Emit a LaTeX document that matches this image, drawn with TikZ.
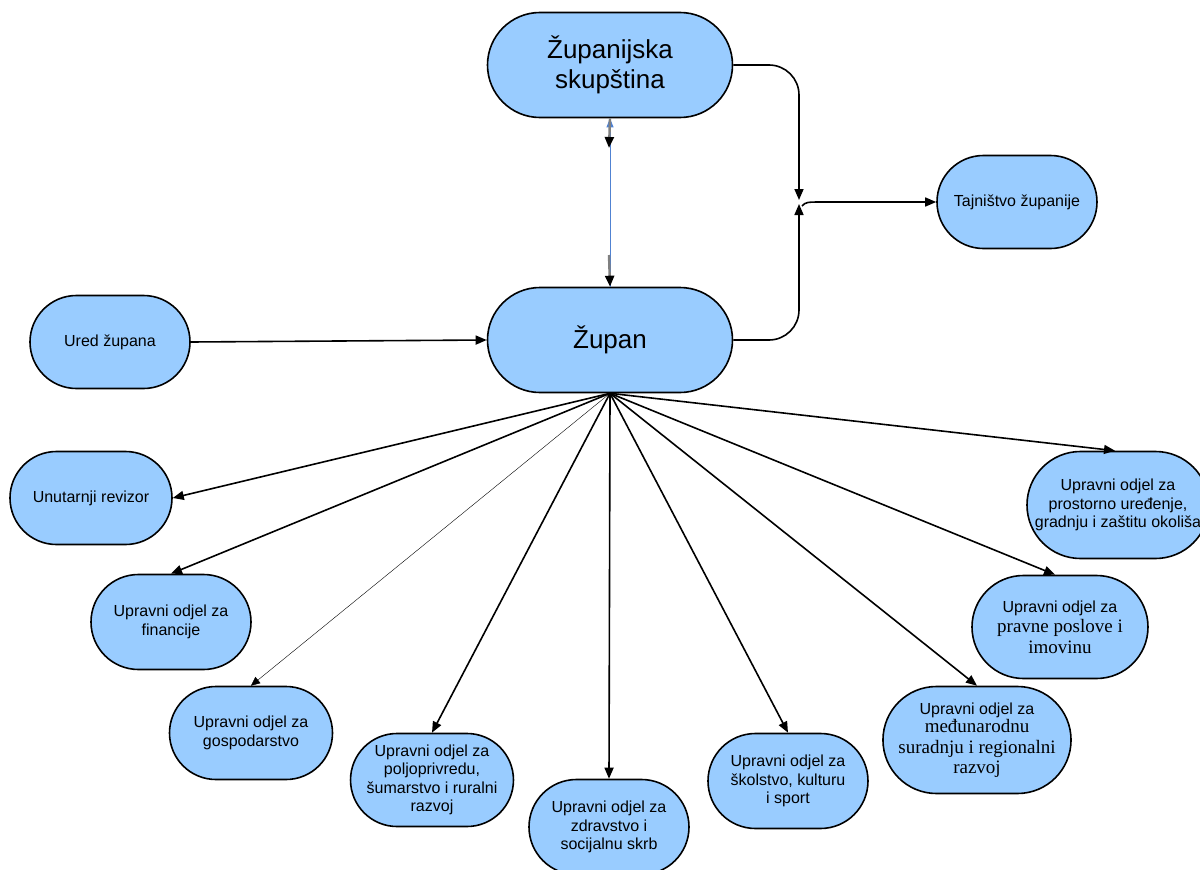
\documentclass[tikz,border=0pt]{standalone}
\usepackage{fontspec}
\setmainfont{Liberation Sans}
\newfontfamily\timesf{Liberation Serif}
\usetikzlibrary{arrows.meta,shapes.misc}

\definecolor{boxblue}{RGB}{153,204,255}
\definecolor{linkblue}{RGB}{80,130,210}

\begin{document}
\begin{tikzpicture}
		[x=1pt,y=-1pt,
		>={Triangle[length=11pt,width=9pt]},
		place/.style={rounded rectangle,draw=black,fill=boxblue,line width=1.6pt,inner sep=0pt,align=center,minimum width=160pt,minimum height=93pt,font=\fontsize{16}{18.5}\selectfont},
		head/.style={place,minimum width=245pt,minimum height=105pt,font=\fontsize{26}{30}\selectfont},
		link/.style={->,line width=1.6pt}]
		\useasboundingbox (0,0) rectangle (1200,870);

		\node [head] (sk) at (610,65) {Županijska\\skupština};
		\node [head] (zu) at (610,340) {Župan};
		\node [place] (taj) at (1017,202) {Tajništvo županije};
		\node [place] (ured) at (110,342) {Ured župana};

		\node [place, minimum width=162pt] (rev) at (91,498) {Unutarnji revizor};
		\node [place, minimum height=95pt] (fin) at (171,622) {Upravni odjel za\\financije};
		\node [place, minimum width=163pt] (gosp) at (251,733) {Upravni odjel za\\gospodarstvo};
		\node [place] (polj) at (432,780) {Upravni odjel za\\poljoprivredu,\\šumarstvo i ruralni\\razvoj};
		\node [place, minimum height=95pt] (zdr) at (609,827) {Upravni odjel za\\zdravstvo i\\socijalnu skrb};
		\node [place, minimum height=95pt] (skol) at (788,781) {Upravni odjel za\\školstvo, kulturu\\i sport};
		\node [place, minimum width=177pt, minimum height=107pt] (medj) at (977,740) {Upravni odjel za\\{\timesf\fontsize{19}{21.7}\selectfont međunarodnu}\\[2pt]{\timesf\fontsize{19}{21.7}\selectfont suradnju i regionalni}\\[2pt]{\timesf\fontsize{19}{21.7}\selectfont razvoj}};
		\node [place, minimum width=176pt, minimum height=103pt] (prav) at (1060,627) {Upravni odjel za\\[2pt]{\timesf\fontsize{19}{21.7}\selectfont pravne poslove i}\\[2pt]{\timesf\fontsize{19}{21.7}\selectfont imovinu}};
		\node [place, minimum width=182pt, minimum height=107pt] (pros) at (1118,505) {Upravni odjel za\\prostorno uređenje,\\gradnju i zaštitu okoliša};

		% skupstina <-> zupan
		\coordinate (s1) at (609,148);
		\coordinate (s2) at (609,255);
		\draw [<-, linkblue, line width=0.9pt, >={Triangle[length=9pt,width=7pt]}] (sk.south) -- (zu.north);
		\draw [->, gray, line width=2.4pt, >={Triangle[length=11pt,width=9pt,black]}] (sk.south) -- (s1);
		\draw [->, gray, line width=2.4pt, >={Triangle[length=11pt,width=9pt,black]}] (s2) -- (zu.north);

		% tajnistvo
		\coordinate (jn) at (799,202);
		\draw [link, rounded corners=30pt] (sk.east) -| ([yshift=2pt]jn);
		\draw [link, rounded corners=30pt] (zu.east) -| ([yshift=-2pt]jn);
		\draw [link] ([shift={(3pt,-4pt)}]jn) .. controls (806,202) .. (825,202) -- (taj.west);

		\draw [link] (ured.east) -- (zu.west);

		% odjeli
		\draw [link] (zu.south) -- (rev.east);
		\draw [link] (zu.south) -- (fin.north);
		\draw [->, thin, >={Triangle[length=9pt,width=8pt]}] (zu.south) -- (gosp.north);
		\draw [link] (zu.south) -- (polj.north);
		\draw [link] (zu.south) -- (zdr.north);
		\draw [link] (zu.south) -- (skol.north);
		\draw [link] (zu.south) -- (medj.north);
		\draw [link] (zu.south) -- ([xshift=-5pt]prav.north);
		\draw [link] (zu.south) -- ([xshift=-3pt]pros.north);

	\end{tikzpicture}
\end{document}
